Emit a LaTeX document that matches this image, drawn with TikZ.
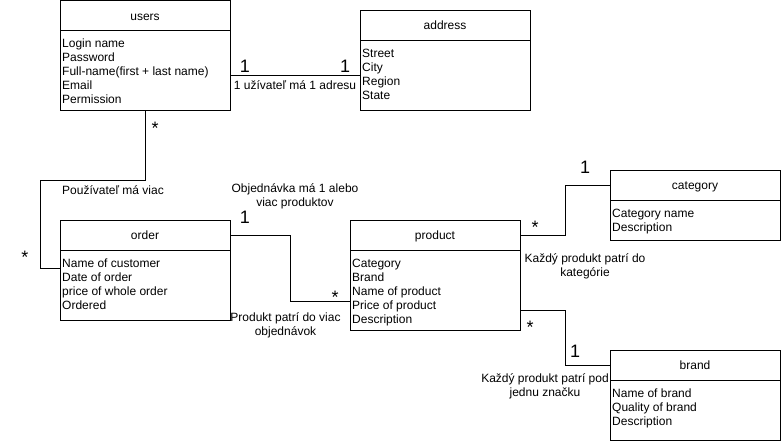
\documentclass[tikz,border=0pt]{standalone}
\usepackage{fontspec}
\setmainfont{Liberation Sans}
\begin{document}
\begin{tikzpicture}[x=1pt,y=-1pt,
  classbox/.style={draw, line width=1pt, inner sep=0pt, outer sep=0pt,
    anchor=north west, minimum width=170pt},
  head/.style={font=\fontsize{12}{14}\selectfont, inner sep=0pt, anchor=base},
  attrs/.style={font=\fontsize{12}{14}\selectfont, align=left, inner sep=0pt,
    anchor=north west},
  mult/.style={font=\fontsize{18}{20}\selectfont, inner sep=0pt, anchor=base},
  lbl/.style={font=\fontsize{12}{14}\selectfont, align=center, inner sep=0pt},
  conn/.style={line width=1pt},
  sep/.style={line width=1pt}]
\useasboundingbox (0,0) rectangle (781,442);

% ---- users ----
\node[classbox, minimum height=109.5pt] (users) at (60,0.5) {};
\draw[sep] (users.west |- 0,30) -- (users.east |- 0,30);
\node[head] (users-title) at (users.north |- 0,20) {users};
\node[attrs] (users-attrs) at (62,37.5) {\strut Login name\\Password\\Full-name(first + last name)\\Email\\Permission};

% ---- address ----
\node[classbox, minimum height=100pt] (address) at (360,10) {};
\draw[sep] (address.west |- 0,40) -- (address.east |- 0,40);
\node[head] (address-title) at (address.north |- 0,29.5) {address};
\node[attrs] (address-attrs) at (362,47.5) {\strut Street\\City\\Region\\State};

% ---- order ----
\node[classbox, minimum height=100pt] (order) at (60,220) {};
\draw[sep] (order.west |- 0,250) -- (order.east |- 0,250);
\node[head] (order-title) at (order.north |- 0,239.5) {order};
\node[attrs] (order-attrs) at (62,257.5) {\strut Name of customer\\Date of order\\price of whole order\\Ordered};

% ---- product ----
\node[classbox, minimum height=110pt] (product) at (350,220) {};
\draw[sep] (product.west |- 0,250) -- (product.east |- 0,250);
\node[head] (product-title) at (product.north |- 0,239.5) {product};
\node[attrs] (product-attrs) at (352,257.5) {\strut Category\\Brand\\Name of product\\Price of product\\Description};

% ---- category ----
\node[classbox, minimum height=70pt] (category) at (610,170) {};
\draw[sep] (category.west |- 0,200) -- (category.east |- 0,200);
\node[head] (category-title) at (category.north |- 0,189.5) {category};
\node[attrs] (category-attrs) at (612,207.5) {\strut Category name\\Description};

% ---- brand ----
\node[classbox, minimum height=90pt] (brand) at (610,350) {};
\draw[sep] (brand.west |- 0,380) -- (brand.east |- 0,380);
\node[head] (brand-title) at (brand.north |- 0,369.5) {brand};
\node[attrs] (brand-attrs) at (612,387.5) {\strut Name of brand\\Quality of brand\\Description};

% ---- users -- address ----
\draw[conn] (users.east |- 0,75) -- (address.west |- 0,75);
\node[mult] (m-ua1) at (245,72.4) {1};
\node[mult] (m-ua2) at (345,72.4) {1};
\node[lbl] (l-ua) at (295,85.5) {1 užívateľ má 1 adresu};

% ---- users -- order ----
\draw[conn] (users.south) |- (40,180) |- (order.west |- 0,268);
\node[mult] (m-uo1) at (155,134.3) {*};
\node[mult] (m-uo2) at (25,263.5) {*};
\node[lbl] (l-uo) at (113,190) {Používateľ má viac};

% ---- order -- product ----
\draw[conn] (order.east |- 0,235) -| (290,301) -- (product.west |- 0,301);
\node[mult] (m-op1) at (245,223.2) {1};
\node[mult] (m-op2) at (335,303.5) {*};
\node[lbl] (l-op1) at (295,196) {Objednávka má 1 alebo\\viac produktov};
\node[lbl] (l-op2) at (285.5,325.5) {Produkt patrí do viac\\objednávok};

% ---- product -- category ----
\draw[conn] (product.east |- 0,235) -| (565,185) -- (category.west |- 0,185);
\node[mult] (m-pc1) at (535,233) {*};
\node[mult] (m-pc2) at (585,173.4) {1};
\node[lbl] (l-pc) at (585,266) {Každý produkt patrí do\\kategórie};

% ---- product -- brand ----
\draw[conn] (product.east |- 0,310) -| (565,365) -- (brand.west |- 0,365);
\node[mult] (m-pb1) at (530,333.3) {*};
\node[mult] (m-pb2) at (575,357.4) {1};
\node[lbl] (l-pb) at (545,386.5) {Každý produkt patrí pod\\jednu značku};
\end{tikzpicture}
\end{document}
